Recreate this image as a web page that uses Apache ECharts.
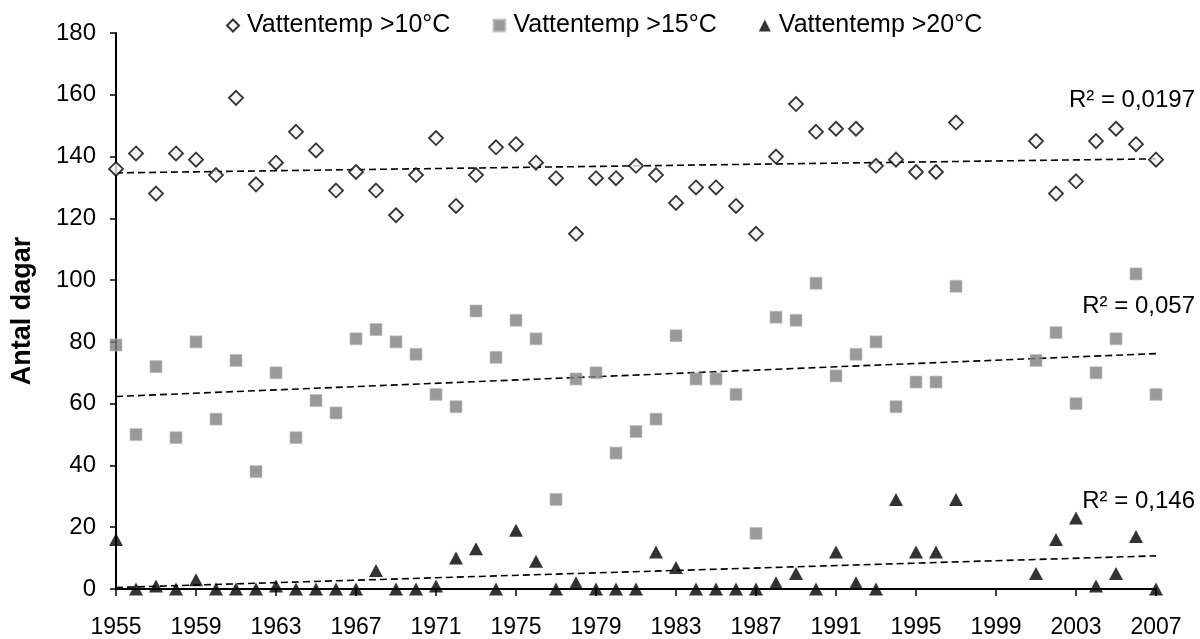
<!DOCTYPE html>
<html>
<head>
<meta charset="utf-8">
<script src="https://cdn.jsdelivr.net/npm/echarts@6/dist/echarts.min.js"></script>
<style>
html,body{margin:0;padding:0;background:#fff;}
#chart{width:1200px;height:639px;}
</style>
</head>
<body>
<div id="chart"></div>
<script>
// ---- Data ----
const years = [1955,1956,1957,1958,1959,1960,1961,1962,1963,1964,1965,1966,1967,1968,1969,1970,
  1971,1972,1973,1974,1975,1976,1977,1978,1979,1980,1981,1982,1983,1984,1985,1986,1987,1988,1989,
  1990,1991,1992,1993,1994,1995,1996,1997,2001,2002,2003,2004,2005,2006,2007];
const over10 = [136,141,128,141,139,134,159,131,138,148,142,129,135,129,121,134,
  146,124,134,143,144,138,133,115,133,133,137,134,125,130,130,124,115,140,157,
  148,149,149,137,139,135,135,151,145,128,132,145,149,144,139];
const over15 = [79,50,72,49,80,55,74,38,70,49,61,57,81,84,80,76,
  63,59,90,75,87,81,29,68,70,44,51,55,82,68,68,63,18,88,87,
  99,69,76,80,59,67,67,98,74,83,60,70,81,102,63];
const over20 = [16,0,1,0,3,0,0,0,1,0,0,0,0,6,0,0,
  1,10,13,0,19,9,0,2,0,0,0,12,7,0,0,0,0,2,5,
  0,12,2,0,29,12,12,29,5,16,23,1,5,17,0];
const seriesNames = ['Vattentemp >10°C','Vattentemp >15°C','Vattentemp >20°C'];
const r2Labels = ['R² = 0,0197','R² = 0,057','R² = 0,146'];
const yearStart = 1955, yearEnd = 2007;
const yTicks = {min:0, max:180, interval:20};

// ---- helpers ----
function pts(vals){ return years.map((y,i)=>[y-yearStart, vals[i]]); }
function trend(vals){
  const xs = years.map(y=>y-yearStart);
  const n = xs.length;
  const mx = xs.reduce((a,b)=>a+b,0)/n, my = vals.reduce((a,b)=>a+b,0)/n;
  let sxy=0, sxx=0;
  for(let i=0;i<n;i++){ sxy+=(xs[i]-mx)*(vals[i]-my); sxx+=(xs[i]-mx)*(xs[i]-mx); }
  const b = sxy/sxx, a = my - b*mx;
  const x0 = 0, x1 = yearEnd-yearStart;
  return [[x0, a+b*x0],[x1, a+b*x1]];
}
const FONT = 'Liberation Sans, Arial, sans-serif';

const trendStyle = {type:[7,4], color:'#000', width:1.6};
function trendSeries(vals){
  return {type:'line', data:trend(vals), symbol:'none', silent:true, z:1,
    lineStyle:trendStyle, animation:false, legendHoverLink:false};
}

const chart = echarts.init(document.getElementById('chart'), null, {renderer:'canvas'});
chart.setOption({
  animation:false,
  backgroundColor:'#fff',
  grid:{left:116, right:44, top:33, bottom:48, containLabel:false},
  legend:{
    data:[
      {name:seriesNames[0], icon:'diamond'},
      {name:seriesNames[1], icon:'rect'},
      {name:seriesNames[2], icon:'triangle'}
    ],
    left:221, top:8, itemWidth:12, itemHeight:12, itemGap:42,
    textStyle:{fontFamily:FONT, fontSize:25, color:'#000', padding:[0,0,0,3]},
    selectedMode:false
  },
  xAxis:{
    type:'value', min:0, max:yearEnd-yearStart, interval:4,
    axisLine:{show:true, onZero:false, lineStyle:{color:'#000', width:2}},
    axisTick:{show:true, length:7, lineStyle:{color:'#000', width:1.5}},
    axisLabel:{fontFamily:FONT, fontSize:23, color:'#000', margin:27,
      formatter:v=>String(v+yearStart)},
    splitLine:{show:false}
  },
  yAxis:{
    type:'value', min:yTicks.min, max:yTicks.max, interval:yTicks.interval,
    name:'Antal dagar', nameLocation:'middle', nameGap:80, nameRotate:90,
    nameTextStyle:{fontFamily:FONT, fontSize:27, fontWeight:'bold', color:'#000'},
    axisLine:{show:true, lineStyle:{color:'#000', width:2}},
    axisTick:{show:true, length:6, lineStyle:{color:'#000', width:1.5}},
    axisLabel:{fontFamily:FONT, fontSize:24, color:'#000', margin:20},
    splitLine:{show:false}
  },
  graphic:[
    {type:'text', right:5, top:88, style:{text:r2Labels[0], font:'24px '+FONT, fill:'#000'}},
    {type:'text', right:5, top:294, style:{text:r2Labels[1], font:'24px '+FONT, fill:'#000'}},
    {type:'text', right:5, top:489, style:{text:r2Labels[2], font:'24px '+FONT, fill:'#000'}}
  ],
  series:[
    trendSeries(over10),
    trendSeries(over15),
    trendSeries(over20),
    {name:seriesNames[0], type:'scatter', data:pts(over10), symbol:'diamond', symbolSize:14, z:3,
      itemStyle:{color:'#f2f2f2', borderColor:'#000', borderWidth:1.8}},
    {name:seriesNames[1], type:'scatter', data:pts(over15), symbol:'rect', symbolSize:12, z:3,
      itemStyle:{color:'#808080', borderColor:'#bfbfbf', borderWidth:0.8}},
    {name:seriesNames[2], type:'scatter', data:pts(over20), symbol:'triangle', symbolSize:[14,13], z:3,
      itemStyle:{color:'#000'}}
  ]
});
</script>
</body>
</html>
